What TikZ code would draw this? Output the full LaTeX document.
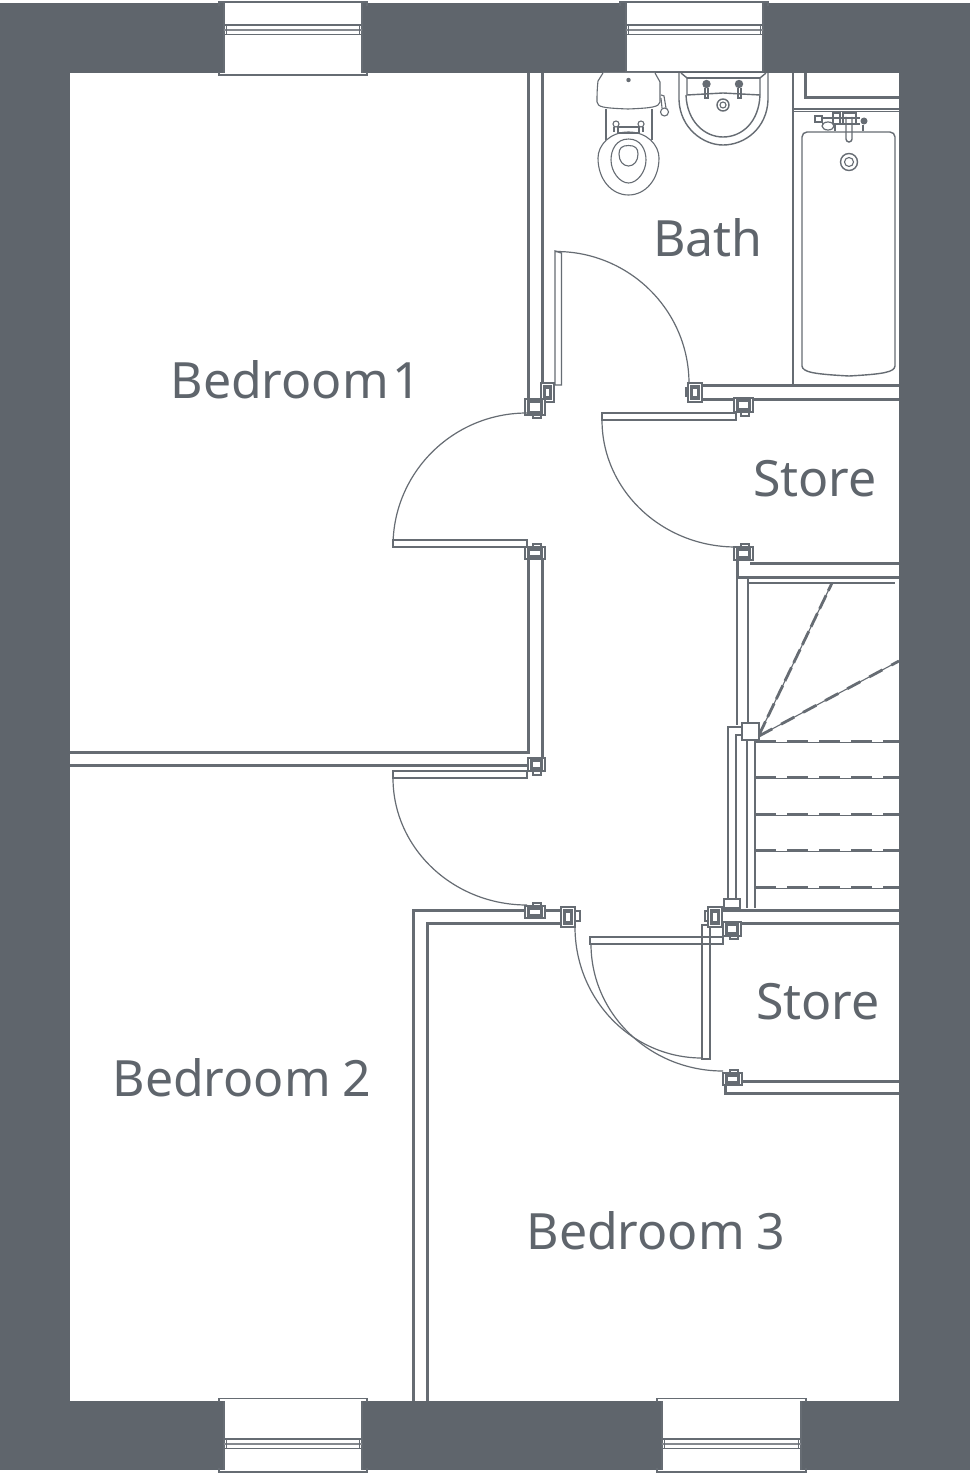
\documentclass[tikz,border=0pt]{standalone}
\usepackage{fontspec}
\setmainfont{Noto Sans}
\definecolor{wallc}{HTML}{5F656C}
\definecolor{linec}{HTML}{666C73}
\tikzset{
  wallfill/.style={fill=wallc,draw=none},
  pw/.style={draw=linec,line width=3pt,line join=miter},
  ln/.style={draw=linec,line width=1.4pt},
  fine/.style={draw=linec,line width=1.1pt},
  swing/.style={draw=linec,line width=1.2pt},
  tread/.style={draw=linec,line width=2.8pt},
  lab/.style={text=wallc,font=\fontsize{50}{54}\selectfont,anchor=base,inner sep=0pt},
}
\newcommand{\jamb}[4]{%
  \draw[ln,fill=white] (#1,#2) rectangle (#3,#4);
  \draw[draw=linec,line width=3pt,fill=white] ({#1+3.5},{#2+2.5}) rectangle ({#3-3.5},{#4-3});
}
\newcommand{\vjamb}[4]{%
  \draw[ln,fill=white] (#1,#2) rectangle (#3,#4);
  \draw[draw=linec,line width=3.4pt,fill=white] ({#1+3.5},{#2+4}) rectangle ({#3-3.5},{#4-4});
}
\newcommand{\tabb}[4]{\draw[fine,fill=white] (#1,#2) rectangle (#3,#4);}
\newcommand{\winwhite}[4]{%
  \fill[white] (#1,#3) rectangle (#2,#4);
  \draw[fine] (#1,#3) -- (#1,#4) (#2,#3) -- (#2,#4);
}
\newcommand{\midlines}[3]{%
  \draw[draw=linec,line width=1.6pt] (#1,#3) -- (#2,#3);
  \draw[draw=linec!80!white,line width=1.6pt] (#1,{#3+5}) -- (#2,{#3+5});
  \draw[draw=linec,line width=1.3pt] (#1,{#3+9.5}) -- (#2,{#3+9.5});
  \draw[fine] ({#1+2.6},#3) -- ({#1+2.6},{#3+9.5}) ({#2-2.6},#3) -- ({#2-2.6},{#3+9.5});
}
\begin{document}
\begin{tikzpicture}[x=1pt,y=-1pt]
\useasboundingbox (0,0) rectangle (970,1474);
\fill[white] (0,0) rectangle (970,1474);
% walls
\fill[wallfill] (0,3) rectangle (970,1470);
\fill[white] (70,73) rectangle (899,1401);
% windows top
\winwhite{224}{362}{3}{73}
\draw[ln] (219,6) -- (219,2) -- (367,2) -- (367,6);
\draw[ln] (219,72) -- (219,75) -- (367,75) -- (367,72);
\midlines{224}{362}{25}
\winwhite{626}{763}{3}{72}
\draw[ln] (620,6) -- (620,2) -- (768,2) -- (768,6);
\draw[ln] (626,71.5) -- (763,71.5);
\midlines{626}{763}{25}
% windows bottom
\winwhite{224}{362}{1401}{1470}
\draw[ln] (219,1402) -- (219,1398.5) -- (367,1398.5) -- (367,1402);
\draw[ln] (219,1468) -- (219,1472) -- (367,1472) -- (367,1468);
\midlines{224}{362}{1439}
\winwhite{662}{801}{1401}{1470}
\draw[ln] (657,1402) -- (657,1398.5) -- (806,1398.5) -- (806,1402);
\draw[ln] (657,1468) -- (657,1472) -- (806,1472) -- (806,1468);
\midlines{662}{801}{1439}
% partitions: bedroom 1 / bath
\draw[pw] (528,73) -- (528,400);
\draw[pw] (542,73) -- (542,384);
\draw[ln,fill=white] (555,251) -- (561.5,253) -- (561.5,385) -- (555,385) -- cycle;
\draw[swing] (556,251.5) arc[start angle=-90,end angle=0,x radius=133,y radius=132];
\vjamb{541}{383}{554}{402}
\jamb{525}{399}{545}{415}
\tabb{533}{415}{541}{418}
% bedroom 1 door
\draw[ln,fill=white] (393,540) rectangle (527,547);
\draw[swing] (393,546) arc[start angle=180,end angle=270,x radius=134,y radius=133];
% partition lower bedroom 1
\draw[pw] (528,559) -- (528,752) -- (70,752);
\draw[pw] (542,559) -- (542,760);
\draw[pw] (70,765) -- (528,765);
\jamb{525}{547}{545}{559}
\tabb{533}{544}{541}{547}
\jamb{528}{758}{545}{771}
\tabb{533}{771}{541}{775}
\draw[ln,fill=white] (393,771) rectangle (527,778);
\draw[swing] (393,778) arc[start angle=180,end angle=90,x radius=134,y radius=127];
% bed 2/3 partition
\draw[pw] (560,910) -- (413,910) -- (413,1401);
\draw[pw] (560,923) -- (427,923) -- (427,1401);
\jamb{525}{906}{545}{918}
\tabb{533}{903}{541}{906}
\vjamb{561}{907}{575}{927}
\tabb{575}{911}{580}{921}
% bath/store wall
\draw[pw] (702,385) -- (899,385);
\draw[pw] (702,399) -- (735,399);
\draw[pw] (752,399) -- (899,399);
\vjamb{688}{383}{702}{402}
\tabb{686}{388}{688}{396}
\jamb{734}{398}{753}{412}
\tabb{741}{412}{749}{416}
% store door
\draw[ln,fill=white] (602,413) rectangle (736,420);
\draw[swing] (602,420) arc[start angle=180,end angle=90,x radius=134,y radius=127];
% store bottom
\draw[pw] (750,563) -- (899,563);
\draw[pw] (737,558) -- (737,577) -- (899,577);
\jamb{734}{547}{753}{560}
\tabb{741}{544}{749}{547}
% stair
\draw[fine] (737,578) -- (737,725);
\draw[fine] (748,578) -- (748,725);
\draw[fine] (748,583) -- (895,583);
\draw[fine] (759,735) -- (832,583);
\draw[fine] (759,736) -- (899,661);
\draw[tread,dash pattern=on 15pt off 5pt] (759,735) -- (832,583);
\draw[tread,dash pattern=on 15pt off 10pt] (759,736) -- (899,661);
\foreach \yy in {742,778,815,851,888}{
  \draw[draw=linec,line width=1pt] (755,\yy) -- (899,\yy);
  \draw[draw=linec,line width=2pt,dash pattern=on 21pt off 11pt] (755,{\yy-1}) -- (899,{\yy-1});
}
\draw[fine] (728,899) -- (728,727) -- (742,727);
\draw[fine] (736,899) -- (736,735) -- (742,735);
\draw[fine] (747,740) -- (747,908);
\draw[fine] (755,740) -- (755,908);
\draw[ln,fill=white] (742,723) rectangle (759,740);
\draw[ln,fill=white] (724,899) rectangle (740,908);
% store lower top wall
\draw[pw] (722,910) -- (899,910);
\draw[pw] (737,923) -- (899,923);
% lower store doors
\draw[swing] (575,927) arc[start angle=180,end angle=90,x radius=127,y radius=131];
\draw[swing] (591,944) arc[start angle=180,end angle=90,x radius=132,y radius=127];
\draw[fine] (590,937) rectangle (723,944);
\draw[fine] (702,925) rectangle (710,1059);
\vjamb{708}{907}{722}{927}
\tabb{705}{911}{708}{921}
\jamb{723}{922}{741}{936}
\tabb{730}{936}{738}{939}
% store lower bottom wall
\draw[pw] (742,1081) -- (899,1081);
\draw[pw] (725,1085) -- (725,1093) -- (899,1093);
\jamb{723}{1073}{742}{1085}
\tabb{730}{1070}{738}{1073}
% bath tub
\draw[fine] (793,73) -- (793,385);
\draw[pw] (805,73) -- (805,98) -- (899,98);
\draw[draw=linec,line width=2pt] (793,73) -- (793,109) -- (899,109);
\draw[draw=linec,line width=1pt] (793,112) -- (899,112);
\draw[ln,rounded corners=5pt] (802,366) -- (802,132) -- (895,132) -- (895,366);
\draw[ln] (802,366) .. controls (803,372) and (812,374) .. (849,376) .. controls (885,374) and (894,372) .. (895,366);
\draw[ln] (849,162) circle[radius=8.5];
\draw[fine] (849,162) circle[radius=4.5];
% bath taps
\draw[fine] (815,116) rectangle (822,122);
\draw[fine] (833,113) rectangle (840,124);
\draw[fine] (822,118) -- (860,118) (822,124) -- (860,124);
\draw[draw=linec,line width=1.2pt,fill=white] (828,126) ellipse[x radius=6,y radius=4];
\draw[ln] (846,117) -- (846,139) arc[start angle=180,end angle=0,radius=3] -- (852,117);
\draw[fine] (843,113) rectangle (856,124);
\fill[linec] (864,121) circle[radius=3.5];
\draw[fine] (863,125) -- (863,131);
\draw[fine] (835,125) -- (835,131);
% WC
\draw[fine,fill=white] (603,73) -- (598,81) .. controls (597,90) and (597,95) .. (597,102) .. controls (598,107) and (602,108) .. (628,109) .. controls (652,108) and (659,107) .. (660,102) -- (660,82) -- (655,73);
\fill[linec] (628.5,80) circle[radius=2.2];
\draw[fine] (606,109) -- (606,140) (652,109) -- (652,140);
\draw[fine,fill=white] (628.5,132) .. controls (610,132) and (598,145) .. (598,158) .. controls (598,180) and (612,195) .. (628.5,195) .. controls (645,195) and (659,180) .. (659,158) .. controls (659,145) and (647,132) .. (628.5,132) -- cycle;
\draw[fine] (628.5,139) .. controls (616,139) and (611,150) .. (611,160) .. controls (611,172) and (620,183) .. (628.5,183) .. controls (637,183) and (646,172) .. (646,160) .. controls (646,150) and (641,139) .. (628.5,139) -- cycle;
\draw[fine] (628.5,145.5) .. controls (622,145.5) and (619,148) .. (619,154) .. controls (619,161) and (623,166) .. (628.5,166) .. controls (634,166) and (638,161) .. (638,154) .. controls (638,148) and (635,145.5) .. (628.5,145.5) -- cycle;
\draw[fine] (616,124) circle[radius=3] (641,124) circle[radius=3];
\draw[fine] (618,127) -- (618,133) -- (639,133) -- (639,127) (618,127) -- (639,127);
\draw[fine] (614,127) -- (614,132) (643,127) -- (643,132);
\draw[fine] (661,95) -- (664,96) -- (666,108) (661,98) -- (662,108);
\draw[fine,fill=white] (664.5,112) circle[radius=4];
% basin
\draw[ln] (679,73) -- (679,100) .. controls (680,128) and (703,145) .. (723,145) .. controls (745,145) and (767,128) .. (768,100) -- (768,73);
\draw[ln] (686,95) .. controls (687,122) and (705,137) .. (723,137) .. controls (742,137) and (759,122) .. (760,95);
\draw[ln] (681,73) -- (687,78) -- (687,95) (766,73) -- (760,78) -- (760,95);
\draw[fine] (687,78) -- (760,78);
\draw[ln] (687,95) -- (723,93) -- (760,95);
\fill[linec] (706.5,84) circle[radius=4.2] (739,84) circle[radius=4.2];
\draw[fine] (705,88) -- (705,98) -- (708,98) -- (708,88);
\draw[fine] (738,88) -- (738,98) -- (741,98) -- (741,88);
\draw[ln] (723,105) circle[radius=6];
\draw[fine] (723,105) circle[radius=3];
% labels
\node[lab] (bed1) at (296,398) {Bedroom\kern4pt 1};
\node[lab] (bath) at (708,256) {Bath};
\node[lab] (store1) at (815,496) {Store};
\node[lab] (store2) at (818,1019) {Store};
\node[lab] (bed2) at (242,1096) {Bedroom\kern12pt 2};
\node[lab] (bed3) at (656,1249) {Bedroom\kern12pt 3};
\end{tikzpicture}
\end{document}
